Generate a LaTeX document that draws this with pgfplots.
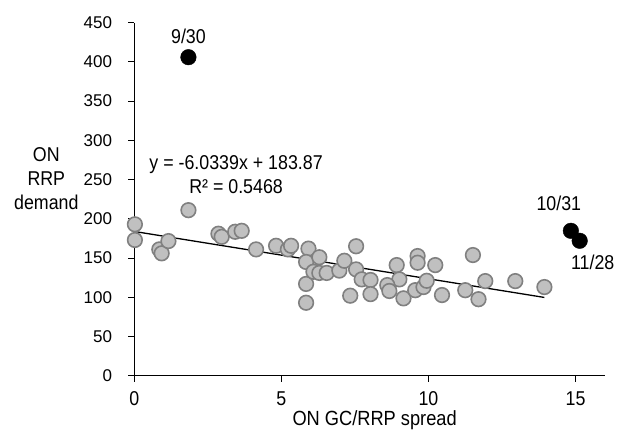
\documentclass[border=0pt]{standalone}
\usepackage{fontspec}
\setmainfont{Liberation Sans}[FakeStretch=0.89]
\newfontfamily\ytickfont{Liberation Sans}
\usepackage{pgfplots}
\pgfplotsset{compat=1.18}

\definecolor{dotfill}{RGB}{192,192,192}
\definecolor{dotedge}{RGB}{128,128,128}

\begin{document}
\begin{tikzpicture}
  \fontsize{20}{24}\selectfont
  \begin{axis}[
      scale only axis,
      width=470.7pt, height=353pt,
      xmin=0, xmax=16, ymin=0, ymax=450,
      axis lines*=left,
      axis line style={black, line width=1pt},
      xtick={0,5,10,15},
      ytick={0,50,...,450},
      tick align=outside,
      major tick length=6pt,
      tick style={black, line width=1pt},
      /pgf/number format/assume math mode=true,
      xticklabel style={font=\fontsize{20}{24}\selectfont, inner sep=0pt, anchor=north, yshift=-10pt},
      yticklabel style={font=\ytickfont\fontsize{17}{20}\selectfont, inner sep=0pt, anchor=east, xshift=-16pt},
      clip=false,
    ]
    % regular days
    \addplot[only marks, mark=*, mark size=7.3pt,
      mark options={fill=dotfill, draw=dotedge, line width=1.6pt}]
      coordinates {
      (0.02,193) (0.02,173) (1.84,211) (0.85,161) (0.93,156) (1.16,171.6)
      (2.86,181) (2.97,177) (3.43,183.5) (3.65,184.7) (4.14,161) (4.82,165.6)
      (5.22,161) (5.33,165.6) (5.92,162) (5.84,145) (5.84,117) (5.84,93)
      (6.29,151) (6.09,132.5) (6.29,131) (6.54,131) (6.97,134) (7.14,146.5)
      (7.54,165) (7.54,135.5) (7.73,122.8) (8.03,122) (7.34,102) (8.03,104)
      (8.92,141) (9.63,152.5) (9.63,144) (10.23,141) (9.01,122.8) (8.6,115.5)
      (8.67,108) (9.15,98.6) (9.55,109) (9.83,113) (9.94,121) (10.46,102.8)
      (11.25,109) (11.51,153.8) (11.7,97.5) (11.93,120.6) (12.95,120.6) (13.94,113)
      };
    % trend line
    \addplot[black, line width=1.3pt] coordinates {(0,183.87) (13.94,99.76)};
    % quarter/month ends
    \addplot[only marks, mark=*, mark size=7.8pt,
      mark options={fill=black, draw=black}]
      coordinates {(1.84,406) (14.84,184.7) (15.14,172)};
    \node at (axis cs:1.84,406) [yshift=21pt] {9/30};
    \node at (axis cs:14.84,184.7) [xshift=-12pt, yshift=27pt] {10/31};
    \node at (axis cs:15.14,172) [xshift=13pt, yshift=-22pt] {11/28};
    \node[align=center, inner sep=0pt] at (axis cs:3.46,255.7)
      {y = -6.0339x + 183.87\\R² = 0.5468};
    \node[align=center, inner sep=0pt] at ([xshift=-88pt]axis cs:0,250.6)
      {ON\\RRP\\demand};
    \node[anchor=base, inner sep=0pt, font=\fontsize{20.5}{24}\selectfont]
      at ([xshift=5pt, yshift=-50pt]axis cs:8,0) {ON GC/RRP spread};
    \coordinate (O) at (axis cs:0,0);
  \end{axis}
  \pgfresetboundingbox
  \path ([shift={(-134.3pt,-54.3pt)}]O) rectangle ++(622pt,430pt);
\end{tikzpicture}
\end{document}
